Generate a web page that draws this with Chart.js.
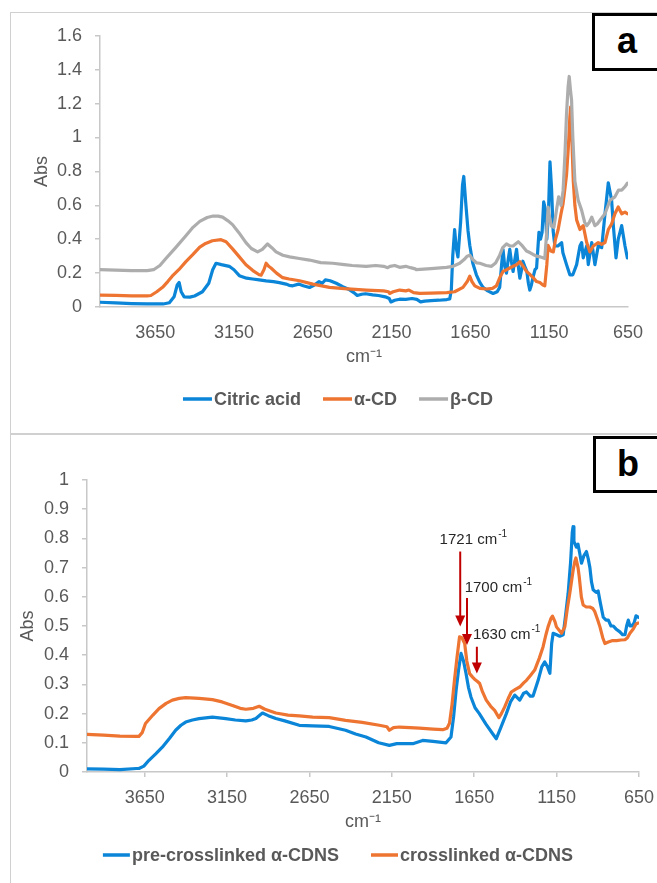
<!DOCTYPE html>
<html>
<head>
<meta charset="utf-8">
<script src="https://cdn.jsdelivr.net/npm/chart.js@4.4.1/dist/chart.umd.min.js"></script>
<style>
  html, body { margin: 0; padding: 0; background: #fff; overflow: hidden; width: 657px; height: 883px; }
  .frame { position: absolute; border: 1.5px solid #d0d0d0; box-sizing: border-box; }
  canvas { position: absolute; }
  .tag { position: absolute; box-sizing: border-box; border: 3px solid #000; background: #fff;
         font: bold 36px "Liberation Sans", Arial, sans-serif; color: #000; text-align: center; }
</style>
</head>
<body>
<div class="frame" style="left:10px; top:12px; width:700px; height:423px;"></div>
<div class="frame" style="left:10px; top:433px; width:700px; height:500px;"></div>
<canvas id="chartA" width="656" height="422" style="left:10px; top:12px"></canvas>
<canvas id="chartB" width="656" height="460" style="left:10px; top:434px"></canvas>
<div class="tag" style="left:592px; top:13px; width:70px; height:58px; line-height:50px;">a</div>
<div class="tag" style="left:593px; top:436px; width:70px; height:57px; line-height:49px;">b</div>

<script>
// ---- panel a : reference spectra ----
const seriesA = ['Citric acid', 'α-CD', 'β-CD'];

const citricWave = [4000, 3900, 3800, 3700, 3600, 3560, 3530, 3510, 3498, 3485, 3466, 3430, 3400, 3350, 3310, 3285, 3264, 3230, 3180, 3150, 3116, 3070, 3032, 2990, 2946, 2900, 2862, 2820, 2800, 2777, 2740, 2710, 2671, 2640, 2610, 2590, 2570, 2540, 2501, 2460, 2423, 2390, 2368, 2340, 2315, 2270, 2234, 2190, 2165, 2154, 2130, 2099, 2060, 2020, 1990, 1966, 1940, 1900, 1850, 1800, 1781, 1771, 1762, 1750, 1740, 1729, 1712, 1700, 1692, 1680, 1665, 1654, 1635, 1612, 1590, 1570, 1540, 1506, 1480, 1464, 1452, 1443, 1432, 1421, 1410, 1400, 1390, 1379, 1368, 1357, 1346, 1336, 1325, 1317, 1305, 1292, 1282, 1273, 1263, 1254, 1240, 1230, 1215, 1205, 1195, 1185, 1175, 1165, 1155, 1145, 1135, 1125, 1114, 1095, 1071, 1063, 1040, 1019, 1000, 976, 955, 944, 934, 912, 902, 880, 860, 839, 817, 796, 775, 754, 743, 726, 712, 690, 669, 654];
const citricAbs = [0.028, 0.024, 0.02, 0.018, 0.018, 0.025, 0.06, 0.13, 0.145, 0.09, 0.06, 0.058, 0.065, 0.09, 0.14, 0.22, 0.258, 0.25, 0.24, 0.22, 0.185, 0.17, 0.165, 0.16, 0.154, 0.15, 0.144, 0.135, 0.128, 0.125, 0.135, 0.125, 0.115, 0.13, 0.15, 0.14, 0.16, 0.155, 0.14, 0.12, 0.105, 0.085, 0.068, 0.075, 0.078, 0.072, 0.068, 0.06, 0.05, 0.03, 0.04, 0.046, 0.045, 0.05, 0.045, 0.03, 0.035, 0.038, 0.04, 0.044, 0.048, 0.1, 0.3, 0.457, 0.35, 0.296, 0.5, 0.72, 0.77, 0.62, 0.45, 0.364, 0.26, 0.19, 0.145, 0.116, 0.095, 0.08, 0.09, 0.116, 0.25, 0.34, 0.24, 0.2, 0.28, 0.34, 0.27, 0.21, 0.28, 0.34, 0.24, 0.17, 0.22, 0.27, 0.24, 0.21, 0.14, 0.1, 0.13, 0.17, 0.22, 0.23, 0.44, 0.4, 0.44, 0.62, 0.58, 0.4, 0.55, 0.856, 0.7, 0.45, 0.36, 0.36, 0.38, 0.32, 0.25, 0.19, 0.19, 0.25, 0.36, 0.38, 0.29, 0.36, 0.25, 0.38, 0.25, 0.36, 0.35, 0.55, 0.733, 0.63, 0.48, 0.29, 0.4, 0.48, 0.36, 0.29];

const alphaWave = [4000, 3900, 3800, 3700, 3677, 3640, 3603, 3570, 3542, 3500, 3455, 3410, 3367, 3330, 3287, 3232, 3200, 3159, 3120, 3074, 3030, 2990, 2978, 2960, 2946, 2930, 2915, 2880, 2841, 2800, 2734, 2650, 2544, 2450, 2311, 2200, 2170, 2163, 2140, 2099, 2060, 2040, 2010, 1972, 1900, 1800, 1750, 1697, 1670, 1654, 1640, 1622, 1590, 1548, 1510, 1485, 1460, 1443, 1420, 1400, 1380, 1357, 1336, 1315, 1294, 1270, 1252, 1230, 1209, 1190, 1178, 1165, 1157, 1140, 1124, 1110, 1093, 1075, 1062, 1050, 1040, 1028, 1019, 1014, 1008, 1003, 997, 987, 976, 955, 934, 912, 892, 870, 839, 817, 796, 775, 754, 733, 712, 690, 669, 654];
const alphaAbs = [0.07, 0.068, 0.066, 0.066, 0.068, 0.09, 0.116, 0.15, 0.182, 0.22, 0.268, 0.31, 0.353, 0.375, 0.391, 0.397, 0.385, 0.343, 0.3, 0.249, 0.215, 0.19, 0.188, 0.22, 0.258, 0.24, 0.23, 0.2, 0.173, 0.165, 0.155, 0.135, 0.116, 0.108, 0.1, 0.095, 0.09, 0.08, 0.09, 0.1, 0.095, 0.1, 0.085, 0.08, 0.082, 0.085, 0.09, 0.116, 0.15, 0.182, 0.15, 0.125, 0.11, 0.106, 0.11, 0.125, 0.18, 0.21, 0.22, 0.23, 0.24, 0.249, 0.268, 0.24, 0.21, 0.19, 0.173, 0.15, 0.144, 0.13, 0.125, 0.25, 0.363, 0.33, 0.325, 0.4, 0.457, 0.55, 0.61, 0.7, 0.78, 0.95, 1.12, 1.18, 1.05, 0.9, 0.74, 0.6, 0.514, 0.457, 0.48, 0.38, 0.325, 0.36, 0.38, 0.37, 0.38, 0.457, 0.49, 0.55, 0.59, 0.55, 0.56, 0.55];

const betaWave = [4000, 3900, 3800, 3700, 3660, 3620, 3582, 3520, 3455, 3410, 3367, 3320, 3282, 3250, 3222, 3190, 3159, 3120, 3074, 3040, 3000, 2970, 2937, 2910, 2883, 2840, 2797, 2735, 2671, 2600, 2523, 2450, 2400, 2311, 2250, 2200, 2175, 2160, 2130, 2099, 2060, 2030, 2000, 1993, 1900, 1802, 1760, 1718, 1690, 1670, 1654, 1635, 1610, 1590, 1550, 1516, 1490, 1464, 1445, 1421, 1400, 1379, 1360, 1346, 1320, 1294, 1270, 1252, 1230, 1209, 1190, 1178, 1165, 1157, 1146, 1136, 1120, 1104, 1090, 1075, 1062, 1050, 1040, 1030, 1023, 1015, 1008, 1000, 987, 966, 944, 925, 912, 895, 880, 860, 845, 829, 796, 764, 733, 710, 690, 669, 654];
const betaAbs = [0.22, 0.218, 0.215, 0.215, 0.22, 0.245, 0.286, 0.35, 0.42, 0.47, 0.505, 0.528, 0.537, 0.536, 0.53, 0.51, 0.486, 0.44, 0.38, 0.345, 0.325, 0.34, 0.372, 0.35, 0.325, 0.305, 0.296, 0.286, 0.277, 0.262, 0.258, 0.25, 0.245, 0.24, 0.245, 0.24, 0.232, 0.24, 0.245, 0.234, 0.24, 0.232, 0.225, 0.22, 0.226, 0.234, 0.24, 0.258, 0.28, 0.3, 0.306, 0.28, 0.26, 0.258, 0.245, 0.24, 0.26, 0.306, 0.35, 0.372, 0.36, 0.36, 0.375, 0.385, 0.36, 0.33, 0.32, 0.31, 0.3, 0.296, 0.29, 0.286, 0.45, 0.59, 0.52, 0.477, 0.47, 0.57, 0.65, 0.6, 0.685, 0.9, 1.14, 1.3, 1.36, 1.28, 1.22, 1.0, 0.742, 0.63, 0.57, 0.5, 0.48, 0.5, 0.53, 0.48, 0.49, 0.51, 0.55, 0.63, 0.65, 0.69, 0.69, 0.71, 0.73];

// ---- panel b : nanosponges ----
const seriesB = ['pre-crosslinked α-CDNS', 'crosslinked α-CDNS'];

const preWave = [4000, 3900, 3800, 3700, 3685, 3655, 3624, 3583, 3543, 3500, 3462, 3430, 3401, 3360, 3320, 3239, 3158, 3100, 3036, 3000, 2975, 2950, 2935, 2900, 2854, 2800, 2712, 2630, 2530, 2431, 2370, 2307, 2230, 2165, 2120, 2023, 1963, 1900, 1821, 1791, 1775, 1760, 1745, 1730, 1715, 1700, 1685, 1670, 1645, 1619, 1580, 1538, 1516, 1490, 1455, 1430, 1404, 1374, 1350, 1333, 1310, 1293, 1262, 1240, 1222, 1205, 1191, 1180, 1171, 1150, 1131, 1110, 1095, 1080, 1065, 1055, 1050, 1045, 1040, 1030, 1020, 1010, 999, 985, 969, 958, 948, 938, 928, 910, 898, 885, 867, 850, 836, 820, 806, 790, 766, 750, 735, 725, 715, 705, 694, 680, 668, 655];
const preAbs = [0.011, 0.01, 0.008, 0.012, 0.012, 0.02, 0.04, 0.062, 0.085, 0.115, 0.143, 0.16, 0.171, 0.178, 0.183, 0.188, 0.183, 0.178, 0.175, 0.178, 0.183, 0.195, 0.202, 0.193, 0.183, 0.175, 0.16, 0.158, 0.156, 0.143, 0.13, 0.12, 0.1, 0.091, 0.097, 0.097, 0.108, 0.105, 0.1, 0.12, 0.19, 0.28, 0.35, 0.406, 0.38, 0.338, 0.29, 0.257, 0.22, 0.2, 0.165, 0.131, 0.114, 0.15, 0.2, 0.24, 0.263, 0.246, 0.27, 0.274, 0.26, 0.26, 0.314, 0.36, 0.377, 0.36, 0.338, 0.44, 0.475, 0.47, 0.465, 0.47, 0.54, 0.612, 0.72, 0.82, 0.84, 0.79, 0.784, 0.77, 0.78, 0.75, 0.715, 0.74, 0.755, 0.73, 0.7, 0.65, 0.624, 0.615, 0.62, 0.58, 0.53, 0.52, 0.52, 0.5, 0.5, 0.49, 0.48, 0.47, 0.47, 0.5, 0.52, 0.5, 0.5, 0.51, 0.535, 0.53];

const xlWave = [4000, 3900, 3800, 3700, 3685, 3665, 3645, 3600, 3563, 3520, 3482, 3440, 3401, 3320, 3239, 3180, 3117, 3070, 3036, 2990, 2955, 2920, 2854, 2780, 2712, 2630, 2530, 2431, 2330, 2226, 2180, 2165, 2140, 2105, 2040, 1983, 1900, 1841, 1815, 1800, 1785, 1770, 1755, 1739, 1725, 1708, 1695, 1678, 1660, 1648, 1630, 1617, 1600, 1577, 1550, 1526, 1500, 1485, 1465, 1445, 1425, 1400, 1374, 1350, 1333, 1310, 1283, 1255, 1232, 1215, 1202, 1185, 1175, 1160, 1151, 1120, 1100, 1085, 1070, 1050, 1040, 1033, 1020, 1013, 1000, 989, 970, 948, 930, 918, 900, 887, 870, 857, 836, 810, 786, 760, 735, 720, 705, 685, 668, 655];
const xlAbs = [0.129, 0.126, 0.123, 0.122, 0.122, 0.135, 0.166, 0.195, 0.217, 0.235, 0.246, 0.252, 0.255, 0.252, 0.248, 0.24, 0.228, 0.218, 0.215, 0.218, 0.225, 0.215, 0.202, 0.195, 0.192, 0.188, 0.186, 0.177, 0.17, 0.16, 0.155, 0.143, 0.152, 0.154, 0.152, 0.15, 0.147, 0.145, 0.15, 0.167, 0.23, 0.314, 0.39, 0.463, 0.46, 0.44, 0.38, 0.337, 0.325, 0.318, 0.31, 0.303, 0.275, 0.246, 0.225, 0.211, 0.186, 0.2, 0.223, 0.25, 0.274, 0.283, 0.291, 0.305, 0.314, 0.33, 0.349, 0.39, 0.429, 0.47, 0.497, 0.525, 0.534, 0.515, 0.497, 0.475, 0.497, 0.56, 0.612, 0.69, 0.72, 0.733, 0.7, 0.67, 0.6, 0.572, 0.565, 0.565, 0.56, 0.549, 0.52, 0.497, 0.46, 0.44, 0.445, 0.45, 0.45, 0.452, 0.453, 0.46, 0.475, 0.49, 0.507, 0.51];

// tick labels
const xTicks = [3650, 3150, 2650, 2150, 1650, 1150, 650];
const yTicksA = [0, 0.2, 0.4, 0.6, 0.8, 1, 1.2, 1.4, 1.6];
const yTicksB = [0, 0.1, 0.2, 0.3, 0.4, 0.5, 0.6, 0.7, 0.8, 0.9, 1];

// peak markers on panel b (wavenumber / Abs)
const noteLabels = ['1721 cm', '1700 cm', '1630 cm'];
const notes = [
  { tx: 1860, ty: 0.802, ax: 1735, top: 0.755, tip: 0.498 },
  { tx: 1708, ty: 0.637, ax: 1694, top: 0.596, tip: 0.435 },
  { tx: 1658, ty: 0.476, ax: 1634, top: 0.429, tip: 0.337 }
];

const BLUE = '#0a85d8', ORANGE = '#ee7431', GRAY = '#adadad';
const AXIS = '#595959', LINE = '#c8c8c8';
const FONT = '"Liberation Sans", Arial, sans-serif';
Chart.defaults.font.family = FONT;

const zip = (w, a) => w.map((x, i) => ({ x: x, y: a[i] }));

// legend drawn under the axis title, centered on the canvas
const bottomLegend = {
  id: 'bottomLegend',
  afterDraw(chart, args, opts) {
    const ctx = chart.ctx;
    ctx.save();
    ctx.font = 'bold 18px ' + FONT;
    ctx.textBaseline = 'middle';
    const items = chart.data.datasets.map(d => ({ t: d.label, c: d.borderColor, w: ctx.measureText(d.label).width }));
    let total = opts.gap * (items.length - 1);
    items.forEach(it => total += opts.line + 2 + it.w);
    let x = chart.width / 2 - total / 2;
    items.forEach(it => {
      ctx.strokeStyle = it.c;
      ctx.lineWidth = 3.5;
      ctx.beginPath();
      ctx.moveTo(x, opts.y);
      ctx.lineTo(x + opts.line, opts.y);
      ctx.stroke();
      ctx.fillStyle = AXIS;
      ctx.fillText(it.t, x + opts.line + 2, opts.y + 1);
      x += opts.line + 2 + it.w + opts.gap;
    });
    ctx.restore();
  }
};

// red arrows + wavenumber labels
const peakNotes = {
  id: 'peakNotes',
  afterDatasetsDraw(chart) {
    const { ctx, scales: { x, y } } = chart;
    ctx.save();
    notes.forEach((n, i) => {
      const px = x.getPixelForValue(n.ax);
      const y0 = y.getPixelForValue(n.top);
      const y1 = y.getPixelForValue(n.tip);
      ctx.strokeStyle = '#c00000';
      ctx.fillStyle = '#c00000';
      ctx.lineWidth = 2;
      ctx.beginPath();
      ctx.moveTo(px, y0);
      ctx.lineTo(px, y1 - 9);
      ctx.stroke();
      ctx.beginPath();
      ctx.moveTo(px - 5, y1 - 11);
      ctx.lineTo(px + 5, y1 - 11);
      ctx.lineTo(px, y1);
      ctx.closePath();
      ctx.fill();

      const tx = x.getPixelForValue(n.tx);
      const ty = y.getPixelForValue(n.ty);
      ctx.fillStyle = '#262626';
      ctx.textBaseline = 'middle';
      ctx.font = '15px ' + FONT;
      ctx.fillText(noteLabels[i], tx, ty + 2);
      const w = ctx.measureText(noteLabels[i]).width;
      ctx.font = '10px ' + FONT;
      ctx.fillText('-1', tx + w + 1, ty - 4);
    });
    ctx.restore();
  }
};

function xAxis(h, showTicks, pad) {
  return {
    type: 'linear', reverse: true, min: 650, max: 4000,
    afterBuildTicks: s => { s.ticks = xTicks.map(v => ({ value: v })); },
    afterFit: s => { s.height = h; },
    grid: { display: showTicks, drawOnChartArea: false, drawTicks: showTicks, tickLength: 5, color: LINE, lineWidth: 1.5 },
    border: { display: true, color: LINE, width: 1.5 },
    ticks: { padding: pad, color: AXIS, font: { size: 18 }, maxRotation: 0, autoSkip: false, callback: v => String(v) },
    title: { display: true, text: 'cm⁻¹', color: AXIS, font: { size: 18 }, padding: 0 }
  };
}

function yAxis(max, ticks, w, titlePad) {
  return {
    min: 0, max: max,
    afterBuildTicks: s => { s.ticks = ticks.map(v => ({ value: v })); },
    afterFit: s => { s.width = w; },
    grid: { drawOnChartArea: false, drawTicks: true, tickLength: 5, color: LINE, lineWidth: 1.5 },
    border: { display: true, color: LINE, width: 1.5 },
    ticks: { padding: 13, color: AXIS, font: { size: 18 }, callback: v => String(v) },
    title: { display: true, text: 'Abs', color: AXIS, font: { size: 18 }, padding: { top: titlePad, bottom: 0 } }
  };
}

function line(label, pts, color, order) {
  return { label: label, data: pts, borderColor: color, backgroundColor: color, borderWidth: 3.2,
           borderJoinStyle: 'round', borderCapStyle: 'round',
           pointRadius: 0, showLine: true, tension: 0, order: order };
}

new Chart(document.getElementById('chartA'), {
  type: 'scatter',
  data: {
    datasets: [
      line(seriesA[0], zip(citricWave, citricAbs), BLUE, 2),
      line(seriesA[1], zip(alphaWave, alphaAbs), ORANGE, 1),
      line(seriesA[2], zip(betaWave, betaAbs), GRAY, 0)
    ]
  },
  options: {
    responsive: false, animation: false,
    layout: { padding: { top: 14, right: 38, bottom: 66, left: 0 } },
    scales: { x: xAxis(61, false, 15), y: yAxis(1.6, yTicksA, 90, 21) },
    plugins: { legend: { display: false }, tooltip: { enabled: false },
               bottomLegend: { y: 387, line: 29, gap: 22 } }
  },
  plugins: [bottomLegend]
});

new Chart(document.getElementById('chartB'), {
  type: 'scatter',
  data: {
    datasets: [
      line(seriesB[0], zip(preWave, preAbs), BLUE, 1),
      line(seriesB[1], zip(xlWave, xlAbs), ORANGE, 0)
    ]
  },
  options: {
    responsive: false, animation: false,
    layout: { padding: { top: 46, right: 27, bottom: 61, left: 0 } },
    scales: { x: xAxis(61, true, 10), y: yAxis(1, yTicksB, 77, 7) },
    plugins: { legend: { display: false }, tooltip: { enabled: false },
               bottomLegend: { y: 421, line: 27, gap: 32 } }
  },
  plugins: [bottomLegend, peakNotes]
});
</script>
</body>
</html>
